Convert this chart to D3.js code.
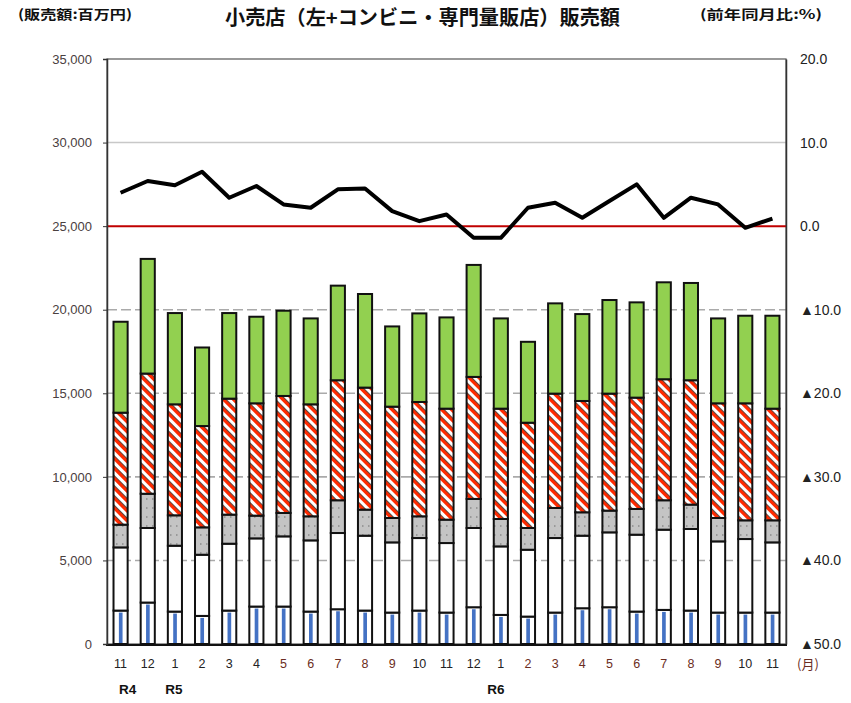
<!DOCTYPE html>
<html><head><meta charset="utf-8">
<script src="https://cdn.jsdelivr.net/npm/d3@7"></script>
<style>body{margin:0;background:#fff}</style>
</head><body><svg id="c" width="851" height="703"></svg>
<script>
// ---- data ----
const months = ["11","12","1","2","3","4","5","6","7","8","9","10","11","12","1","2","3","4","5","6","7","8","9","10","11"];
const monthColors = ["#222","#222","#222","#222","#222","#222","#6b2d22","#6b2d22","#6b2d22","#6b2d22","#6b2d22","#222","#222","#222","#222","#6b2d22","#6b2d22","#6b2d22","#6b2d22","#6b2d22","#6b2d22","#6b2d22","#6b2d22","#222","#222"];
const eraLabels = ["R4","R5","R6"];
const eraIndex = [0, 2, 14];
const seriesA = [2000,2480,1940,1680,2000,2240,2240,1940,2080,2000,1880,2000,1880,2200,1740,1640,1880,2140,2200,1940,2040,2000,1880,1880,1880];
const seriesB = [3780,4460,3940,3660,4000,4080,4200,4260,4560,4480,4200,4340,4160,4740,4100,4000,4460,4340,4480,4600,4800,4880,4260,4400,4200];
const seriesC = [1360,2050,1820,1640,1740,1360,1400,1440,1960,1560,1460,1300,1400,1740,1640,1300,1800,1400,1300,1540,1760,1460,1400,1120,1320];
const seriesD = [6700,7190,6640,6060,6940,6720,7000,6700,7180,7300,6660,6840,6640,7300,6600,6300,6840,6660,7000,6660,7240,7440,6860,7000,6680];
const seriesE = [5440,6860,5460,4700,5120,5180,5100,5140,5660,5600,4800,5300,5460,6700,5400,4840,5400,5200,5600,5700,5800,5820,5080,5240,5560];
const yoy = [4.0,5.4,4.9,6.5,3.4,4.8,2.6,2.2,4.4,4.5,1.8,0.6,1.4,-1.4,-1.4,2.2,2.8,1.0,3.0,5.0,1.0,3.4,2.6,-0.2,0.9];
const leftTicks = [0,5000,10000,15000,20000,25000,30000,35000];
const rightTicks = [20,10,0,-10,-20,-30,-40,-50];
const title = "小売店（左+コンビニ・専門量販店）販売額";
const leftUnit = "(販売額:百万円)";
const rightUnit = "(前年同月比:%)";

// ---- chart ----
const svg = d3.select("#c");
const L = 107, R = 786, T = 59, B = 644;
const keys = ["a","b","c","d","e"];
const rows = months.map((m,i)=>({i, a:seriesA[i], b:seriesB[i], c:seriesC[i], d:seriesD[i], e:seriesE[i]}));
const stacked = d3.stack().keys(keys)(rows);

const x = d3.scaleBand().domain(d3.range(months.length)).range([L,R]).paddingInner(0.48).paddingOuter(0.24);
const y = d3.scaleLinear().domain([0,35000]).range([B,T]);
const y2 = d3.scaleLinear().domain([-50,20]).range([B,T]);

// patterns
const defs = svg.append("defs");
const pat = defs.append("pattern").attr("id","stripe").attr("patternUnits","userSpaceOnUse")
  .attr("width",7).attr("height",7).attr("patternTransform","rotate(-45)");
pat.append("rect").attr("width",7).attr("height",7).attr("fill","#fff");
pat.append("rect").attr("x",0).attr("width",3).attr("height",7).attr("fill","#ff2a00");
pat.append("rect").attr("x",3).attr("width",0.8).attr("height",7).attr("fill","#3a1a10");
const gp = defs.append("pattern").attr("id","grayp").attr("patternUnits","userSpaceOnUse").attr("width",6).attr("height",9);
gp.append("rect").attr("width",6).attr("height",9).attr("fill","#c4c4c4");
gp.append("rect").attr("x",2).attr("y",3).attr("width",1.5).attr("height",2).attr("fill","#999");

// gridlines
svg.append("g").selectAll("line").data(leftTicks.filter(v=>v>0 && v<35000 && v!==25000)).join("line")
  .attr("x1",L).attr("x2",R).attr("y1",d=>y(d)).attr("y2",d=>y(d))
  .attr("stroke",d=>d===30000?"#c8c8c8":"#aaaaaa").attr("stroke-width",1.6)
  .attr("stroke-dasharray",d=>d===30000?null:"10,4");

// plot border
svg.append("rect").attr("x",L).attr("y",T).attr("width",R-L).attr("height",B-T)
  .attr("fill","none").attr("stroke","#555").attr("stroke-width",1.2);

// bars
const fills = {a:"#fff", b:"#fff", c:"url(#grayp)", d:"url(#stripe)", e:"#92d050"};
const bw = x.bandwidth();
stacked.forEach(layer=>{
  const g = svg.append("g");
  g.selectAll("rect").data(layer).join("rect")
    .attr("x",(d,i)=>x(i)).attr("width",bw)
    .attr("y",d=>y(d[1])).attr("height",d=>y(d[0])-y(d[1]))
    .attr("fill",fills[layer.key]).attr("stroke","#111").attr("stroke-width",2);
  if(layer.key==="a"){
    g.selectAll("rect.blue").data(layer).join("rect").attr("class","blue")
      .attr("x",(d,i)=>x(i)+bw*0.38).attr("width",bw*0.26)
      .attr("y",d=>y(d[1])+2).attr("height",d=>Math.max(0,y(d[0])-y(d[1])-3))
      .attr("fill","#4472c4");
  }
});

// zero line (right axis)
svg.append("line").attr("x1",L).attr("x2",R).attr("y1",y2(0)).attr("y2",y2(0))
  .attr("stroke","#c00000").attr("stroke-width",2);

// yoy line
svg.append("path").datum(yoy)
  .attr("d",d3.line().x((d,i)=>x(i)+bw/2).y(d=>y2(d)))
  .attr("fill","none").attr("stroke","#000").attr("stroke-width",4).attr("stroke-linejoin","round");

// bottom axis line
svg.append("line").attr("x1",L-1).attr("x2",R+1).attr("y1",B+1).attr("y2",B+1).attr("stroke","#111").attr("stroke-width",2);

// left axis
const la = svg.append("g").attr("transform",`translate(${L},0)`)
  .call(d3.axisLeft(y).tickValues(leftTicks).tickFormat(d3.format(",")).tickSize(4).tickPadding(11));
la.select(".domain").attr("stroke","#333").attr("stroke-width",1.5);
la.selectAll(".tick line").attr("stroke","#333");
la.selectAll(".tick text").attr("font-family","Liberation Sans, Arial, sans-serif").attr("font-size",13).attr("fill","#4a4040");

// right axis
const ra = svg.append("g").attr("transform",`translate(${R},0)`)
  .call(d3.axisRight(y2).tickValues(rightTicks).tickFormat(v=> v<0 ? "▲"+Math.abs(v).toFixed(1) : v.toFixed(1)).tickSize(0).tickPadding(14));
ra.select(".domain").attr("stroke","#333").attr("stroke-width",1.5);
ra.selectAll(".tick text").attr("font-family","Liberation Sans, Arial, sans-serif").attr("font-size",14).attr("fill","#222");

// month labels
svg.append("g").selectAll("text").data(months).join("text")
  .attr("x",(d,i)=>x(i)+bw/2).attr("y",668).attr("text-anchor","middle")
  .attr("font-family","Liberation Sans Narrow, Liberation Sans, sans-serif").attr("font-size",12.5)
  .attr("fill",(d,i)=>monthColors[i]).text(d=>d);
svg.append("text").attr("x",808).attr("y",669).attr("text-anchor","middle")
  .attr("font-family","Noto Sans CJK JP, sans-serif").attr("font-size",13).attr("fill","#6b2d22").text("(月)");

// era labels
const eraShift = [7, -1, -5];
svg.append("g").selectAll("text").data(eraLabels).join("text")
  .attr("x",(d,i)=>x(eraIndex[i])+bw/2+eraShift[i]).attr("y",694).attr("text-anchor","middle")
  .attr("font-family","Liberation Sans Narrow, Liberation Sans, sans-serif").attr("font-weight","bold").attr("font-size",13.5)
  .attr("fill","#111").text(d=>d);

// titles
svg.append("text").attr("x",225).attr("y",25).attr("textLength",395).attr("lengthAdjust","spacingAndGlyphs")
  .attr("font-family","Noto Sans CJK JP, sans-serif").attr("font-size",20).attr("font-weight","bold").attr("fill","#111").text(title);
svg.append("text").attr("x",18).attr("y",19).attr("textLength",114).attr("lengthAdjust","spacingAndGlyphs")
  .attr("font-family","Noto Sans CJK JP, sans-serif").attr("font-size",13).attr("font-weight","bold").attr("fill","#111").text(leftUnit);
svg.append("text").attr("x",700).attr("y",19).attr("textLength",122).attr("lengthAdjust","spacingAndGlyphs")
  .attr("font-family","Noto Sans CJK JP, sans-serif").attr("font-size",13).attr("font-weight","bold").attr("fill","#111").text(rightUnit);
</script></body></html>
